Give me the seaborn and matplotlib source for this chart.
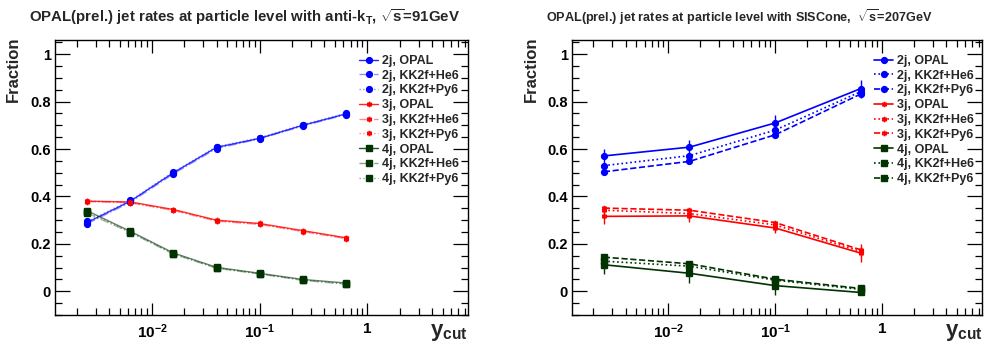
import numpy as np
import pandas as pd
import matplotlib
matplotlib.use("Agg")
import matplotlib.pyplot as plt
import seaborn as sns
from matplotlib.lines import Line2D
from matplotlib.colors import to_rgba
from matplotlib.ticker import FixedLocator, FixedFormatter, LogLocator, NullFormatter, MultipleLocator, FuncFormatter

# ---------------- data ----------------
x_left = [0.0025, 0.0063, 0.0158, 0.0398, 0.1, 0.251, 0.631]
left_2j_opal = [0.290, 0.380, 0.500, 0.607, 0.645, 0.700, 0.748]
left_2j_he6 = [0.285, 0.375, 0.495, 0.602, 0.643, 0.697, 0.745]
left_2j_py6 = [0.295, 0.383, 0.503, 0.610, 0.648, 0.703, 0.751]
left_3j_opal = [0.380, 0.377, 0.345, 0.300, 0.286, 0.256, 0.226]
left_3j_he6 = [0.378, 0.374, 0.341, 0.296, 0.282, 0.252, 0.222]
left_3j_py6 = [0.382, 0.373, 0.343, 0.298, 0.284, 0.254, 0.224]
left_4j_opal = [0.340, 0.253, 0.162, 0.101, 0.076, 0.050, 0.035]
left_4j_he6 = [0.330, 0.248, 0.157, 0.097, 0.073, 0.046, 0.030]
left_4j_py6 = [0.335, 0.250, 0.159, 0.099, 0.074, 0.048, 0.032]
left_err = [0.005, 0.005, 0.005, 0.005, 0.005, 0.005, 0.005]

x_right = [0.0025, 0.0158, 0.1, 0.631]
right_2j_opal = [0.571, 0.608, 0.710, 0.855]
right_2j_he6 = [0.530, 0.572, 0.680, 0.842]
right_2j_py6 = [0.504, 0.548, 0.660, 0.832]
right_3j_opal = [0.316, 0.318, 0.267, 0.161]
right_3j_he6 = [0.342, 0.328, 0.280, 0.168]
right_3j_py6 = [0.351, 0.342, 0.290, 0.175]
right_4j_opal = [0.112, 0.076, 0.024, -0.005]
right_4j_he6 = [0.127, 0.106, 0.047, 0.008]
right_4j_py6 = [0.144, 0.116, 0.051, 0.012]
right_2j_err = [0.028, 0.030, 0.034, 0.038]
right_3j_err = [0.031, 0.025, 0.023, 0.037]
right_4j_err = [0.039, 0.040, 0.040, 0.012]
right_mc_err = [0.008, 0.008, 0.008, 0.008]

labels = ["2j, OPAL", "2j, KK2f+He6", "2j, KK2f+Py6",
          "3j, OPAL", "3j, KK2f+He6", "3j, KK2f+Py6",
          "4j, OPAL", "4j, KK2f+He6", "4j, KK2f+Py6"]
title_left = r"OPAL(prel.) jet rates at particle level with anti-$\mathbf{k_{T}}$, $\sqrt{\mathbf{s}}$=91GeV"
title_right = r"OPAL(prel.) jet rates at particle level with SISCone,  $\sqrt{\mathbf{s}}$=207GeV"
y_ticks = [0, 0.2, 0.4, 0.6, 0.8, 1.0]
x_ticks = [0.01, 0.1, 1.0]
x_ticklabels = [r"$\mathbf{10^{-2}}$", r"$\mathbf{10^{-1}}$", r"$\mathbf{1}$"]

# ---------------- style ----------------
sns.set_style("ticks")
plt.rcParams["font.family"] = ["Liberation Sans", "DejaVu Sans"]
plt.rcParams["mathtext.fontset"] = "custom"
plt.rcParams["mathtext.rm"] = "Liberation Sans:bold"
plt.rcParams["mathtext.bf"] = "Liberation Sans:bold"
plt.rcParams["mathtext.it"] = "Liberation Sans:italic:bold"

BLUE = "#0000ff"
RED = "#ff0000"
GREEN = "#003300"
MK = {"2j": ("o", 4.2, 1.0), "3j": ((6, 2, 0), 3.8, 1.1), "4j": ("s", 4.6, 1.0)}

fig = plt.figure(figsize=(9.86, 3.49), dpi=100)
W, H = 986.0, 349.0
ax_l = fig.add_axes([55 / W, 1 - 315 / H, (468 - 55) / W, (315 - 40) / H])
ax_r = fig.add_axes([572 / W, 1 - 315 / H, (982 - 572) / W, (315 - 40) / H])


def draw(ax, x, y, err, color, ls, marker, ms, mew, alpha, lw):
    df = pd.DataFrame({"x": x, "y": y})
    sns.lineplot(data=df, x="x", y="y", ax=ax, color=color, linestyle=ls,
                 lw=lw, alpha=alpha, marker=None, legend=False)
    ax.errorbar(x, y, yerr=err, fmt="none", ecolor=color, elinewidth=1.0,
                capsize=0, zorder=3)
    ax.plot(x, y, linestyle="none", marker=marker, ms=ms, color=color,
            mec=color, mew=mew, zorder=4)


# left panel
left_series = [
    (left_2j_opal, BLUE, "-", "2j", 0.8), (left_2j_he6, BLUE, "-.", "2j", 0.4), (left_2j_py6, BLUE, ":", "2j", 0.4),
    (left_3j_opal, RED, "-", "3j", 0.8), (left_3j_he6, RED, "-.", "3j", 0.4), (left_3j_py6, RED, ":", "3j", 0.4),
    (left_4j_opal, GREEN, "-", "4j", 0.6), (left_4j_he6, GREEN, "-.", "4j", 0.35), (left_4j_py6, GREEN, ":", "4j", 0.35),
]
handles_l = []
for y, c, ls, key, a in left_series:
    m, ms, mew = MK[key]
    draw(ax_l, x_left, y, left_err, c, ls, m, ms, mew, a, 1.0)
    handles_l.append(Line2D([], [], color=to_rgba(c, 0.85 if a > 0.5 else 0.45), ls=ls, lw=1.0,
                            marker=m, ms=ms, mec=c, mfc=c, mew=mew))

# right panel
right_series = [
    (right_2j_opal, right_2j_err, BLUE, "-", "2j"), (right_2j_he6, right_mc_err, BLUE, ":", "2j"), (right_2j_py6, right_mc_err, BLUE, "--", "2j"),
    (right_3j_opal, right_3j_err, RED, "-", "3j"), (right_3j_he6, right_mc_err, RED, ":", "3j"), (right_3j_py6, right_mc_err, RED, "--", "3j"),
    (right_4j_opal, right_4j_err, GREEN, "-", "4j"), (right_4j_he6, right_mc_err, GREEN, ":", "4j"), (right_4j_py6, right_mc_err, GREEN, "--", "4j"),
]
handles_r = []
for y, e, c, ls, key in right_series:
    m, ms, mew = MK[key]
    draw(ax_r, x_right, y, e, c, ls, m, ms, mew, 1.0, 1.2)
    handles_r.append(Line2D([], [], color=c, ls=ls, lw=1.2, marker=m, ms=ms,
                            mec=c, mfc=c, mew=mew))

for ax in (ax_l, ax_r):
    ax.set_xscale("log")
    ax.set_xlim(10 ** -2.9, 10 ** 0.935)
    ax.set_ylim(-0.1, 1.06)
    ax.xaxis.set_major_locator(FixedLocator(x_ticks))
    ax.xaxis.set_major_formatter(FixedFormatter(x_ticklabels))
    ax.xaxis.set_minor_locator(LogLocator(base=10, subs=np.arange(2, 10)))
    ax.xaxis.set_minor_formatter(NullFormatter())
    ax.yaxis.set_major_locator(FixedLocator(y_ticks))
    ax.yaxis.set_major_formatter(FuncFormatter(lambda v, p: f"{v:g}"))
    ax.yaxis.set_minor_locator(MultipleLocator(0.05))
    ax.tick_params(which="both", direction="in", top=True, right=True, width=0.9, colors="black")
    ax.tick_params(which="major", length=9)
    ax.tick_params(which="minor", length=5)
    ax.tick_params(axis="y", which="major", length=11, pad=3, labelsize=10.5)
    ax.tick_params(axis="x", which="major", pad=5, labelsize=11)
    for lab in ax.get_yticklabels():
        lab.set_fontweight("bold")
    for s in ax.spines.values():
        s.set_linewidth(1.0)
        s.set_color("black")
    ax.set_xlabel("")
    ax.set_ylabel("")
    ax.set_facecolor("white")

leg_kw = dict(loc="upper left", frameon=False, borderpad=0, borderaxespad=0,
              handlelength=1.55, handletextpad=0.3, labelspacing=0.22,
              prop={"weight": "bold", "size": 9.0}, bbox_transform=fig.transFigure)
ax_l.legend(handles_l, labels, bbox_to_anchor=(359 / W, 1 - 55 / H), **leg_kw)
ax_r.legend(handles_r, labels, bbox_to_anchor=(874 / W, 1 - 55 / H), **leg_kw)

# titles and labels (font size fitted to the reference title widths)
t_left = fig.text(29 / W, 1 - 17 / H, title_left, ha="left", va="center", fontsize=10, fontweight="bold")
t_right = fig.text(546 / W, 1 - 17 / H, title_right, ha="left", va="center", fontsize=10, fontweight="bold")
fig.canvas.draw()
renderer = fig.canvas.get_renderer()
for t, target in ((t_left, 431.0), (t_right, 384.0)):
    w = t.get_window_extent(renderer).width
    t.set_fontsize(10 * target / w)

for xf in (13 / W, 531 / W):
    fig.text(xf, 1 - 37 / H, "Fraction", rotation=90, ha="center", va="top",
             fontsize=12, fontweight="bold")
for xr in (468 / W, 983 / W):
    fig.text(xr, 1 - 322 / H, r"$\mathbf{y_{cut}}$", ha="right", va="top", fontsize=16)

fig.savefig("out.png", dpi=100, facecolor="white")
